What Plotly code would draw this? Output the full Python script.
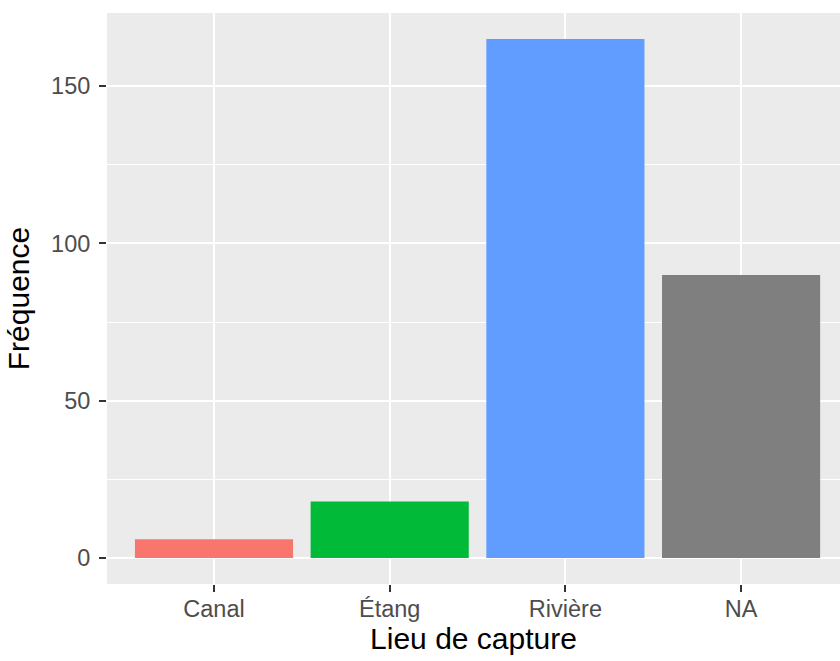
import plotly.graph_objects as go

categories = ["Canal", "Étang", "Rivière", "NA"]
counts = [6, 18, 165, 90]
colors = ["#F8766D", "#00BA38", "#619CFF", "#7F7F7F"]
y_ticks = [0, 50, 100, 150]

fig = go.Figure(
    go.Bar(
        x=categories,
        y=counts,
        marker=dict(color=colors, line=dict(width=0)),
        width=0.9,
        showlegend=False,
    )
)

font_family = "Liberation Sans, Arial, sans-serif"

fig.update_layout(
    width=840,
    height=661,
    margin=dict(l=107, r=0, t=13, b=77, autoexpand=False),
    paper_bgcolor="white",
    plot_bgcolor="#EBEBEB",
    font=dict(family=font_family),
    bargap=0.1,
)

fig.update_xaxes(
    type="category",
    range=[-0.609, 3.563],
    automargin=False,
    showgrid=True,
    gridcolor="white",
    gridwidth=2.2,
    ticks="outside",
    ticklen=7,
    tickwidth=2.2,
    tickcolor="#333333",
    tickfont=dict(size=23.5, color="#4D4D4D", family=font_family),
    ticklabelstandoff=-3,
    zeroline=False,
    showline=False,
    title=dict(text="Lieu de capture", font=dict(size=30, color="black", family=font_family), standoff=6),
)

fig.update_yaxes(
    range=[-8.25, 173.25],
    automargin=False,
    tickvals=y_ticks,
    showgrid=True,
    gridcolor="white",
    gridwidth=2.2,
    minor=dict(dtick=25, tick0=0, showgrid=True, gridcolor="white", gridwidth=1.1, ticks=""),
    ticks="outside",
    ticklen=7,
    tickwidth=2.2,
    tickcolor="#333333",
    tickfont=dict(size=23.5, color="#4D4D4D", family=font_family),
    ticklabelstandoff=4,
    zeroline=False,
    showline=False,
    title=dict(text="Fréquence", font=dict(size=30, color="black", family=font_family), standoff=12),
)

fig.write_html(
    "out.html",
    config={"displayModeBar": False},
    post_script="document.body.style.margin='0';document.body.style.padding='0';document.body.style.overflow='hidden';",
)
